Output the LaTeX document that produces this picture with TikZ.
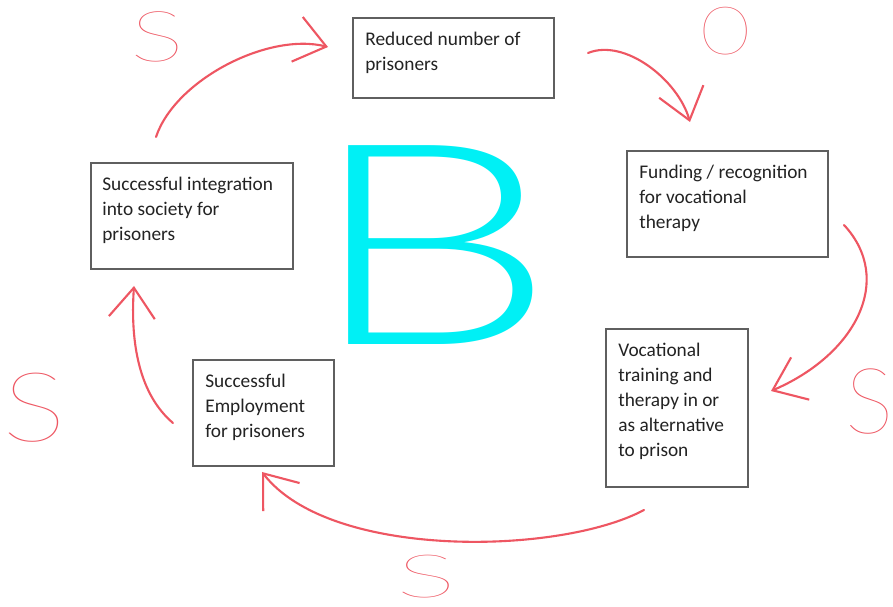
\documentclass[tikz,border=0pt]{standalone}
\usepackage{fontspec}
\setmainfont{Carlito}
\IfFontExistsTF{Lato-Hairline.ttf}
  {\newfontfamily\thinfont{Lato-Hairline.ttf}}{\newfontfamily\thinfont{Lato}}
\IfFontExistsTF{Lato-Light.ttf}
  {\newfontfamily\lightfont{Lato-Light.ttf}}{\newfontfamily\lightfont{Lato}}
\usepackage{tikz}
\usetikzlibrary{arrows.meta,positioning}
\definecolor{loopred}{RGB}{238,86,98}
\definecolor{loopcyan}{RGB}{0,240,245}
\definecolor{boxgray}{RGB}{95,95,95}
\definecolor{textgray}{RGB}{35,35,35}
\newcommand{\signsize}[1]{\fontsize{#1}{#1}\selectfont}
\newcommand{\wide}[2]{\scalebox{#1}[1]{#2}}
\tikzset{
  cbox/.style={draw=boxgray, line width=0.9pt, anchor=north west, inner sep=0pt},
  ctext/.style={align=left, inner sep=0pt, text=textgray,
                font=\fontsize{11}{14.2}\selectfont},
  link/.style={draw=loopred, line width=1.2pt, line cap=round,
               -{Straight Barb[length=0.6cm, width=0.92cm]}},
  loopsign/.style={text=loopred, inner sep=0pt, font=\thinfont\signsize{40}}
}
\begin{document}
\begin{tikzpicture}[x=0.02cm, y=-0.02cm]
  \useasboundingbox[fill=white] (0,0) rectangle (893,607);
  % boxes
  \node[cbox, minimum width=4.02cm, minimum height=1.6cm] (reduced) at (352,17) {};
  \node[ctext, below right=0.3cm and 0.26cm of reduced.north west] (reducedtxt)
    {Reduced number of\\prisoners};
  \node[cbox, minimum width=4.02cm, minimum height=2.12cm] (funding) at (626,150) {};
  \node[ctext, below right=0.3cm and 0.26cm of funding.north west] (fundingtxt)
    {Funding / recognition\\for vocational\\therapy};
  \node[cbox, minimum width=2.84cm, minimum height=3.16cm] (training) at (605,328) {};
  \node[ctext, below right=0.3cm and 0.26cm of training.north west] (trainingtxt)
    {Vocational\\training and\\therapy in or\\as alternative\\to prison};
  \node[cbox, minimum width=2.82cm, minimum height=2.12cm] (employ) at (192,359) {};
  \node[ctext, below right=0.3cm and 0.26cm of employ.north west] (employtxt)
    {Successful\\Employment\\for prisoners};
  \node[cbox, minimum width=4.04cm, minimum height=2.12cm] (integr) at (90,162) {};
  \node[ctext, below right=0.3cm and 0.24cm of integr.north west] (integrtxt)
    {Successful integration\\into society for\\prisoners};
  % loop arrows
  \coordinate (s1) at (156,137); \coordinate (e1) at (328,47);
  \coordinate (s2) at (588,53);  \coordinate (e2) at (690,122);
  \coordinate (s3) at (844,225); \coordinate (e3) at (771,391);
  \coordinate (s4) at (644,510); \coordinate (e4) at (262,472);
  \coordinate (s5) at (173,423); \coordinate (e5) at (134,286);
  \draw[link] (s1) .. controls (175,80) and (268,32) .. (e1);
  \draw[link] (s2) .. controls (625,38) and (678,80) .. (e2);
  \draw[link] (s3) .. controls (895,280) and (855,355) .. (e3);
  \draw[link] (s4) .. controls (560,555) and (330,560) .. (e4);
  \draw[link] (s5) .. controls (140,395) and (130,345) .. (e5);
  % signs
  \node[loopsign] (sgn1) at (157,37) {\wide{1.45}{S}};
  \node[loopsign, font=\thinfont\signsize{38}] (sgn2) at (726,31) {O};
  \node[loopsign, font=\thinfont\signsize{52}] (sgn3) at (870,402) {S};
  \node[loopsign, font=\thinfont\signsize{34}] (sgn4) at (427,577) {\wide{1.9}{S}};
  \node[loopsign, font=\thinfont\signsize{55}] (sgn5) at (34,408) {\wide{1.25}{S}};
  \node[loopsign, text=loopcyan, font=\lightfont\signsize{160}] (balance) at (432,245) {\wide{1.4}{B}};
\end{tikzpicture}
\end{document}
